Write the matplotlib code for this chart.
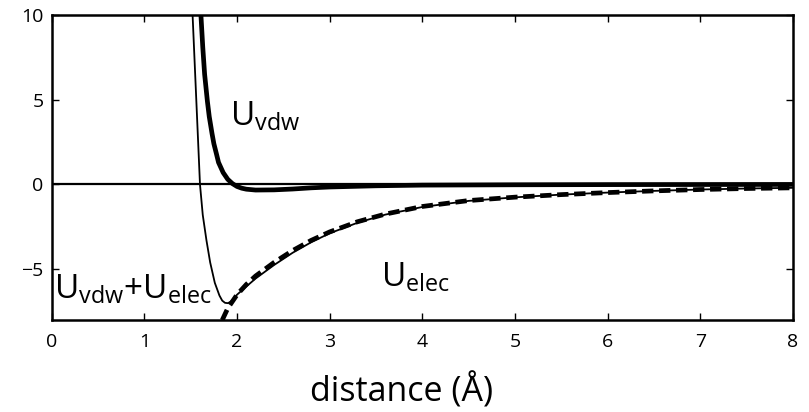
import matplotlib.pyplot as plt

plt.rcParams['font.family'] = ['Open Sans', 'DejaVu Sans']
plt.rcParams['mathtext.fontset'] = 'custom'
plt.rcParams['mathtext.rm'] = 'Open Sans'

# values
vdw_x = [1.61, 1.63, 1.65, 1.68, 1.70, 1.73, 1.75, 1.78, 1.80, 1.85, 1.90, 1.95,
         2.00, 2.05, 2.10, 2.20, 2.40, 2.60, 2.80, 3.00, 3.50, 4.00, 5.00, 6.00, 8.00]
vdw_y = [10.0, 8.1, 6.5, 4.9, 4.0, 3.0, 2.4, 1.75, 1.3, 0.7, 0.3, 0.05,
         -0.12, -0.22, -0.28, -0.33, -0.32, -0.27, -0.20, -0.15, -0.08, -0.04, -0.02, -0.01, 0.0]

elec_x = [1.84, 1.90, 2.00, 2.10, 2.20, 2.40, 2.60, 2.80, 3.00, 3.30, 3.60, 4.00,
          4.50, 5.00, 5.50, 6.00, 6.50, 7.00, 7.50, 8.00]
elec_y = [-8.0, -7.3, -6.5, -5.9, -5.4, -4.6, -3.9, -3.3, -2.8, -2.2, -1.75, -1.3,
          -0.95, -0.75, -0.6, -0.48, -0.38, -0.3, -0.24, -0.2]

sum_x = [1.52, 1.54, 1.56, 1.58, 1.60, 1.63, 1.67, 1.71, 1.76, 1.81, 1.84, 1.87,
         1.90, 1.93, 1.96, 2.00, 2.10, 2.20, 2.40, 2.60, 2.80, 3.00, 3.30, 3.60,
         4.00, 4.50, 5.00, 5.50, 6.00, 6.50, 7.00, 7.50, 8.00]
sum_y = [10.0, 7.5, 5.0, 2.5, 0.0, -1.8, -3.3, -4.6, -5.8, -6.55, -6.85, -6.98,
         -7.0, -6.92, -6.75, -6.5, -6.02, -5.55, -4.75, -4.03, -3.41, -2.88, -2.26, -1.78,
         -1.33, -0.97, -0.76, -0.6, -0.48, -0.38, -0.3, -0.24, -0.2]

xticks = [0, 1, 2, 3, 4, 5, 6, 7, 8]
yticks = [-5, 0, 5, 10]

fig = plt.figure(figsize=(8.09, 4.12), dpi=100)
ax = fig.add_axes([0.064, 0.223, 0.916, 0.741])

ax.axhline(0, color='black', lw=1.6, zorder=2)
ax.plot(sum_x, sum_y, color='black', lw=1.3, zorder=3)
ax.plot(vdw_x, vdw_y, color='black', lw=3.4, zorder=4)
ax.plot(elec_x, elec_y, color='black', lw=3.4, dashes=(2.4, 1.2), zorder=4)

ax.set_xlim(0, 8)
ax.set_ylim(-8, 10)
ax.set_xticks(xticks)
ax.set_yticks(yticks)
ax.tick_params(axis='both', direction='in', top=True, right=True, length=5,
               width=1, labelsize=14)
ax.tick_params(axis='x', pad=9)
ax.tick_params(axis='y', pad=6)
for s in ax.spines.values():
    s.set_linewidth(1.8)

ax.text(1.92, 4.0, r'U$_{\rm vdw}$', fontsize=24, va='center')
ax.text(0.02, -6.2, r'U$_{\rm vdw}$+U$_{\rm elec}$', fontsize=24, va='center')
ax.text(3.55, -5.5, r'U$_{\rm elec}$', fontsize=24, va='center')

ax.set_xlabel('distance (Å)', fontsize=24.5)
ax.xaxis.set_label_coords(0.472, -0.175)

fig.savefig('out.png', dpi=100)
